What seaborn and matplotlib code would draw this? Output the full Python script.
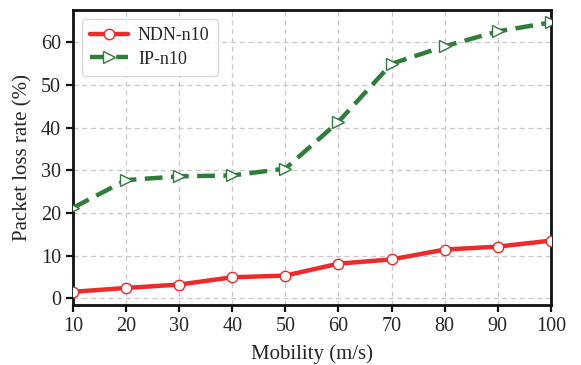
import matplotlib
matplotlib.use("Agg")
import matplotlib.pyplot as plt
import seaborn as sns
import pandas as pd

mobility = [10, 20, 30, 40, 50, 60, 70, 80, 90, 100]
ndn_loss = [1.5, 2.4, 3.2, 4.9, 5.3, 8.1, 9.1, 11.4, 12.1, 13.5]
ip_loss = [21.2, 27.7, 28.6, 28.8, 30.4, 41.4, 55.0, 59.1, 62.6, 64.7]
series_names = ["NDN-n10", "IP-n10"]
y_ticks = [0, 10, 20, 30, 40, 50, 60]
x_ticks = mobility

sns.set_style("ticks")
plt.rcParams["font.family"] = ["Liberation Serif", "DejaVu Serif"]
plt.rcParams["mathtext.fontset"] = "stix"

df = pd.DataFrame({
    "Mobility": mobility * 2,
    "Loss": ndn_loss + ip_loss,
    "Series": [series_names[0]] * len(mobility) + [series_names[1]] * len(mobility),
})

fig = plt.figure(figsize=(5.81, 3.65), dpi=100)
ax = fig.add_axes([0.1256, 0.1644, 0.8225, 0.808])

red = "#EE2A2A"
green = "#2E7D3A"

sns.lineplot(data=df[df.Series == series_names[0]], x="Mobility", y="Loss",
             ax=ax, color=red, lw=3.2, marker="o", markersize=7.5,
             markerfacecolor="white", markeredgecolor=red, markeredgewidth=1.0,
             label=series_names[0], zorder=3)
sns.lineplot(data=df[df.Series == series_names[1]], x="Mobility", y="Loss",
             ax=ax, color=green, lw=3.2, ls=(0, (4.0, 1.9)), marker=">", markersize=8.5,
             markerfacecolor="white", markeredgecolor=green, markeredgewidth=1.0,
             label=series_names[1], zorder=3)

ax.set_xlim(10, 100)
ax.set_ylim(-1.6, 67.6)
ax.set_xticks(x_ticks)
ax.set_yticks(y_ticks)
ax.grid(True, ls=(0, (4, 3)), color="#c8c8c8", lw=0.9)
ax.set_axisbelow(True)

for sp in ax.spines.values():
    sp.set_linewidth(2.0)
    sp.set_color("#111111")
ax.tick_params(axis="both", direction="out", length=5, width=1.6, labelsize=14.5, color="#111111")

ax.set_xlabel("Mobility (m/s)", fontsize=15, labelpad=6)
ax.set_ylabel("Packet loss rate (%)", fontsize=15, labelpad=6)

leg = ax.legend(loc="upper left", fontsize=13, frameon=True, fancybox=True,
                borderpad=0.45, handlelength=2.1, labelspacing=0.35, handletextpad=0.55)
leg.get_frame().set_edgecolor("#cccccc")
leg.get_frame().set_linewidth(0.9)

fig.savefig("out.png", dpi=100)
